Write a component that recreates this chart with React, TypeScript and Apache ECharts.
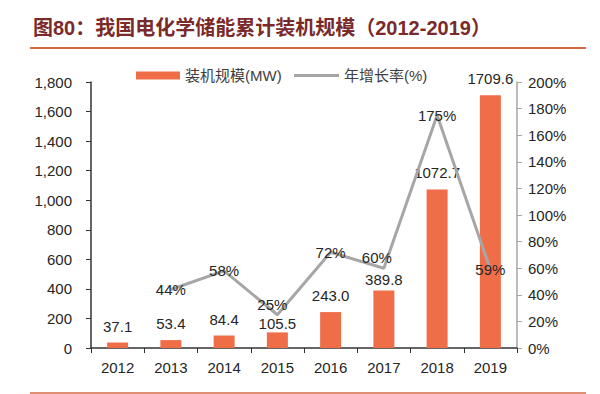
import React, { useEffect, useRef } from "react";
import * as echarts from "echarts";

const years = ["2012", "2013", "2014", "2015", "2016", "2017", "2018", "2019"];
const capacity = [37.1, 53.4, 84.4, 105.5, 243.0, 389.8, 1072.7, 1709.6];
const growth = [null, 44, 58, 25, 72, 60, 175, 59];
const titleText = "图80：我国电化学储能累计装机规模（2012-2019）";
const barName = "装机规模(MW)";
const lineName = "年增长率(%)";

const FONT = "'Liberation Sans', 'Noto Sans CJK SC', sans-serif";
const TXT = "#262626";

export default function App() {
  const ref = useRef<HTMLDivElement>(null);
  useEffect(() => {
    if (!ref.current) return;
    const chart = echarts.init(ref.current, null, { renderer: "svg" });
    const growthData = growth.map((v, i) => {
      if (v === null) return null;
      const item: any = { value: v };
      if (i === 3) item.label = { offset: [-5, -10] };
      if (i === 5) item.label = { offset: [-7, -11] };
      return item;
    });
    const capData = capacity.map((v, i) => {
      const item: any = { value: v };
      if (i === 3) item.label = { distance: 1 };
      if (i === 5) item.label = { distance: 3 };
      return item;
    });
    chart.setOption({
      animation: false,
      backgroundColor: "#ffffff",
      textStyle: { fontFamily: FONT },
      title: {
        text: titleText,
        left: 28,
        top: 13,
        textStyle: { fontSize: 20, fontWeight: "bold", color: "#7a2a2a", fontFamily: FONT },
      },
      graphic: [
        { type: "line", shape: { x1: 30, y1: 48, x2: 586, y2: 48 }, style: { stroke: "#d46a45", lineWidth: 2 } },
        { type: "line", shape: { x1: 30, y1: 393, x2: 586, y2: 393 }, style: { stroke: "#d46a45", lineWidth: 1.5 } },
      ],
      legend: [
        {
          data: [barName],
          left: 131,
          top: 63,
          itemWidth: 44,
          itemHeight: 8,
          icon: "rect",
          textStyle: { fontSize: 15, color: "#404040", fontFamily: FONT },
        },
        {
          data: [{ name: lineName, icon: "rect", itemStyle: { color: "#a6a6a6" } }],
          left: 289,
          top: 63,
          itemWidth: 45,
          itemHeight: 3,
          textStyle: { fontSize: 15, color: "#404040", fontFamily: FONT },
        },
      ],
      grid: { left: 91, right: 83, top: 82, bottom: 46, containLabel: false },
      xAxis: {
        type: "category",
        data: years,
        axisLine: { lineStyle: { color: "#333333", width: 1.5 } },
        axisTick: { show: true, length: 5, lineStyle: { color: "#333333" } },
        axisLabel: { fontSize: 15, color: TXT, margin: 12, fontFamily: FONT },
      },
      yAxis: [
        {
          type: "value",
          min: 0,
          max: 1800,
          interval: 200,
          axisLine: { show: true, lineStyle: { color: "#333333", width: 1.5 } },
          axisTick: { show: true, length: 5, lineStyle: { color: "#333333" } },
          splitLine: { show: false },
          axisLabel: {
            fontSize: 15,
            color: TXT,
            margin: 19,
            fontFamily: FONT,
            formatter: (v: number) => v.toLocaleString("en-US"),
          },
        },
        {
          type: "value",
          min: 0,
          max: 200,
          interval: 20,
          axisLine: { show: true, lineStyle: { color: "#a6a6a6", width: 1.5 } },
          axisTick: { show: true, length: 5, lineStyle: { color: "#a6a6a6" } },
          splitLine: { show: false },
          axisLabel: { fontSize: 15, color: TXT, margin: 11, fontFamily: FONT, formatter: "{value}%" },
        },
      ],
      series: [
        {
          name: barName,
          type: "bar",
          data: capData,
          barWidth: 21,
          itemStyle: { color: "#ef6e48" },
          label: {
            show: true,
            position: "top",
            distance: 9,
            fontSize: 15,
            color: TXT,
            fontFamily: FONT,
            formatter: (p: any) => Number(p.value).toFixed(1),
          },
          z: 2,
        },
        {
          name: lineName,
          type: "line",
          yAxisIndex: 1,
          data: growthData,
          symbol: "circle",
          symbolSize: 1,
          lineStyle: { color: "#a6a6a6", width: 3 },
          itemStyle: { color: "#a6a6a6" },
          label: {
            show: true,
            position: "inside",
            fontSize: 15,
            color: TXT,
            fontFamily: FONT,
            formatter: "{c}%",
          },
          z: 3,
        },
      ],
    });
    return () => chart.dispose();
  }, []);
  return (
    <div
      ref={ref}
      style={{ position: "fixed", left: 0, top: 0, width: 600, height: 394, background: "#fff" }}
    />
  );
}
